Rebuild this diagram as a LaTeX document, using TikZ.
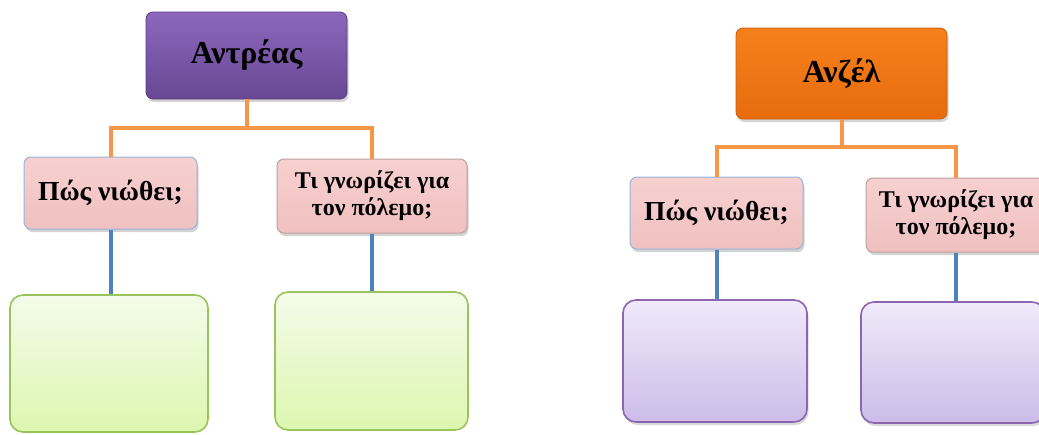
\documentclass[tikz,border=0pt]{standalone}
\usepackage{fontspec}
\setmainfont{Liberation Serif}
\usetikzlibrary{shadows}
\definecolor{purpT}{RGB}{140,104,188}
\definecolor{purpB}{RGB}{104,72,148}
\definecolor{purpD}{RGB}{90,62,128}
\definecolor{orT}{RGB}{246,128,28}
\definecolor{orB}{RGB}{232,108,12}
\definecolor{orD}{RGB}{200,95,15}
\definecolor{pinkT}{RGB}{247,208,208}
\definecolor{pinkB}{RGB}{240,192,192}
\definecolor{pinkBlue}{RGB}{150,180,222}
\definecolor{pinkGray}{RGB}{190,160,160}
\definecolor{grnT}{RGB}{244,251,234}
\definecolor{grnB}{RGB}{220,247,176}
\definecolor{grnD}{RGB}{155,195,92}
\definecolor{lavT}{RGB}{240,234,250}
\definecolor{lavB}{RGB}{204,188,232}
\definecolor{lavD}{RGB}{140,102,178}
\definecolor{orLine}{RGB}{247,150,70}
\definecolor{blLine}{RGB}{79,129,189}
\tikzset{
  topbox/.style={rectangle, rounded corners=7pt, draw=#1, line width=0.8pt,
    font=\fontsize{32}{36}\selectfont\bfseries, align=center, inner sep=0pt,
    drop shadow={opacity=0.35, shadow xshift=1.5pt, shadow yshift=-3pt}},
  qbox/.style={rectangle, rounded corners=7pt, draw=#1, line width=1pt,
    top color=pinkT, bottom color=pinkB, align=center, inner sep=0pt,
    drop shadow={opacity=0.35, shadow xshift=1.5pt, shadow yshift=-3pt}},
  qone/.style={font=\fontsize{27.5}{30}\selectfont\bfseries},
  qtwo/.style={font=\fontsize{24}{27}\selectfont\bfseries},
  greenbox/.style={rectangle, rounded corners=13pt, draw=grnD, line width=1.6pt,
    top color=grnT, bottom color=grnB, inner sep=0pt},
  lavbox/.style={rectangle, rounded corners=13pt, draw=lavD, line width=1.6pt,
    top color=lavT, bottom color=lavB, inner sep=0pt,
    drop shadow={opacity=0.3, shadow xshift=1.5pt, shadow yshift=-3pt}},
  oline/.style={draw=orLine, line width=4pt},
  bline/.style={draw=blLine, line width=4pt},
}
\begin{document}
\begin{tikzpicture}[x=1pt,y=-1pt]
\useasboundingbox (0,0) rectangle (1039,434);
\clip (0,0) rectangle (1039,434);
\coordinate (J1) at (246.5,128);
\coordinate (J2) at (841.5,147);
% ----- left group -----
\node[topbox=purpD, top color=purpT, bottom color=purpB, minimum width=201pt, minimum height=87pt] (T1) at (246.5,55.5) {Αντρέας};
\node[qbox=pinkBlue, qone, minimum width=173pt, minimum height=72pt] (L1) at (110.5,193) {Πώς νιώθει;};
\node[qbox=pinkGray, qtwo, minimum width=190pt, minimum height=74pt] (L2) at (372,196) {Τι γνωρίζει για\\τον πόλεμο;};
\node[greenbox, minimum width=198pt, minimum height=137pt] (G1) at (109,363.5) {};
\node[greenbox, minimum width=193pt, minimum height=138pt] (G2) at (371.5,361) {};
% ----- right group -----
\node[topbox=orD, top color=orT, bottom color=orB, minimum width=211pt, minimum height=91pt] (T2) at (841.5,73.5) {Ανζέλ};
\node[qbox=pinkBlue, qone, minimum width=173pt, minimum height=72pt] (R1) at (716.5,213) {Πώς νιώθει;};
\node[qbox=pinkGray, qtwo, minimum width=180pt, minimum height=74pt] (R2) at (956,215) {Τι γνωρίζει για\\τον πόλεμο;};
\node[lavbox, minimum width=184pt, minimum height=122pt] (P1) at (715,361) {};
\node[lavbox, minimum width=184pt, minimum height=121pt] (P2) at (953,362.5) {};
% connectors
\draw[oline] (T1.south) -- (J1);
\draw[oline] (L1.north) |- (J1) -| (L2.north);
\draw[bline] (L1.south) -- (G1.north -| L1.south);
\draw[bline] (L2.south) -- (G2.north -| L2.south);
\draw[oline] (T2.south) -- (J2);
\draw[oline] (R1.north) |- (J2) -| (R2.north);
\draw[bline] (R1.south) -- (P1.north -| R1.south);
\draw[bline] (R2.south) -- (P2.north -| R2.south);
\end{tikzpicture}
\end{document}
